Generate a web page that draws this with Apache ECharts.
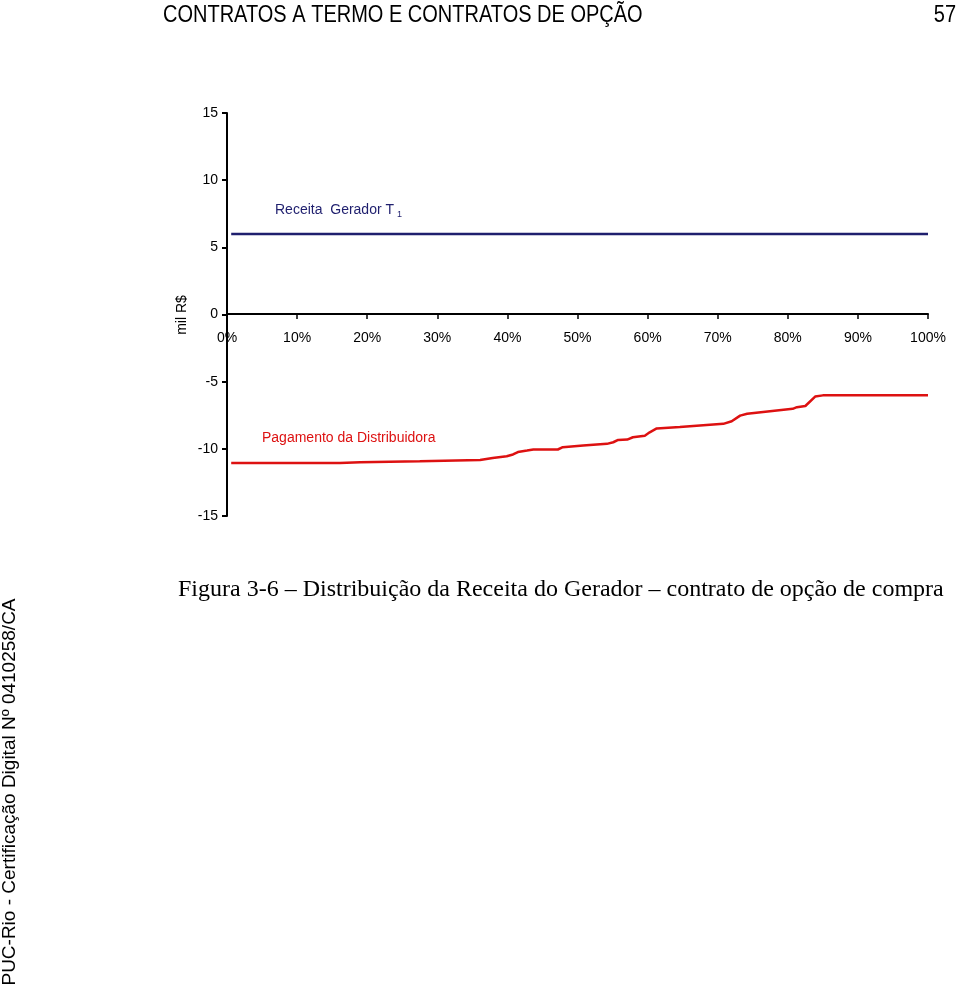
<!DOCTYPE html>
<html>
<head>
<meta charset="utf-8">
<script src="https://cdn.jsdelivr.net/npm/echarts@6/dist/echarts.min.js"></script>
<style>
html,body{margin:0;padding:0;background:#fff;}
#c{width:960px;height:989px;}
</style>
</head>
<body>
<div id="c"></div>
<script>
// Data (x = share of scenarios, y = mil R$)
const receitaGerador = [[0.006, 6], [1.0, 6]];
const pagamentoDistribuidora = [
  [0.006, -11.05], [0.161, -11.06], [0.190, -10.99], [0.275, -10.92], [0.361, -10.83],
  [0.379, -10.68], [0.399, -10.55], [0.408, -10.42], [0.415, -10.24], [0.428, -10.13],
  [0.437, -10.05], [0.472, -10.05], [0.479, -9.88], [0.508, -9.76], [0.542, -9.63],
  [0.551, -9.51], [0.558, -9.34], [0.571, -9.31], [0.579, -9.14], [0.596, -9.02],
  [0.603, -8.77], [0.613, -8.48], [0.646, -8.38], [0.708, -8.14], [0.720, -7.95],
  [0.732, -7.53], [0.742, -7.39], [0.807, -7.02], [0.813, -6.90], [0.825, -6.81],
  [0.839, -6.11], [0.850, -6.02], [1.0, -6.02]
];
const yTicks = [-15, -10, -5, 0, 5, 10, 15];
const xTickLabels = ['0%','10%','20%','30%','40%','50%','60%','70%','80%','90%','100%'];

const chart = echarts.init(document.getElementById('c'), null, {renderer: 'canvas'});
const font = '"Liberation Sans", Arial, sans-serif';
chart.setOption({
  animation: false,
  backgroundColor: '#ffffff',
  grid: {left: 227, right: 32, top: 113, bottom: 473, containLabel: false},
  xAxis: {
    type: 'value', min: 0, max: 1, interval: 0.1,
    offset: -202,
    axisLine: {onZero: false, lineStyle: {color: '#000', width: 2}},
    axisTick: {show: true, length: 5, lineStyle: {color: '#000', width: 1.5}},
    axisLabel: {
      margin: 17, color: '#000', fontSize: 14, fontFamily: font,
      formatter: function (v) { return xTickLabels[Math.round(v * 10)]; }
    },
    splitLine: {show: false}
  },
  yAxis: {
    type: 'value', min: yTicks[0], max: yTicks[yTicks.length - 1], interval: 5,
    axisLine: {onZero: false, lineStyle: {color: '#000', width: 2}},
    axisTick: {show: true, length: 5, lineStyle: {color: '#000', width: 2}},
    axisLabel: {margin: 9, color: '#000', fontSize: 14, fontFamily: font},
    splitLine: {show: false}
  },
  series: [
    {
      type: 'line', data: receitaGerador, showSymbol: false,
      lineStyle: {color: '#1f1f6e', width: 2.5}
    },
    {
      type: 'line', data: pagamentoDistribuidora, showSymbol: false, smooth: false,
      lineStyle: {color: '#dd1111', width: 2.5}
    }
  ],
  graphic: [
    {type: 'text', x: 163, y: 15, scaleY: 1.2, style: {text: 'CONTRATOS A TERMO E CONTRATOS DE OPÇÃO', font: '20px ' + font, fill: '#000', verticalAlign: 'middle'}},
    {type: 'text', x: 956, y: 15, scaleY: 1.2, style: {text: '57', font: '20px ' + font, fill: '#000', align: 'right', verticalAlign: 'middle'}},
    {type: 'text', left: 275, top: 203, style: {text: 'Receita  Gerador T', font: '14px ' + font, fill: '#1f1f6e'}},
    {type: 'text', left: 397, top: 210, style: {text: '1', font: '9px ' + font, fill: '#1f1f6e'}},
    {type: 'text', left: 262, top: 431, style: {text: 'Pagamento da Distribuidora', font: '14px ' + font, fill: '#dd1111'}},
    {type: 'text', x: 182, y: 315, rotation: Math.PI / 2, style: {text: 'mil R$', font: '14px ' + font, fill: '#000', align: 'center', verticalAlign: 'middle'}},
    {type: 'text', x: 178, y: 590, style: {text: 'Figura 3-6 – Distribuição da Receita do Gerador – contrato de opção de compra', font: '24px "Liberation Serif", "Times New Roman", serif', fill: '#000', verticalAlign: 'middle'}},
    {type: 'text', x: 10, y: 792, rotation: Math.PI / 2, style: {text: 'PUC-Rio - Certificação Digital Nº 0410258/CA', font: '19px ' + font, fill: '#000', align: 'center', verticalAlign: 'middle'}}
  ]
});
</script>
</body>
</html>
